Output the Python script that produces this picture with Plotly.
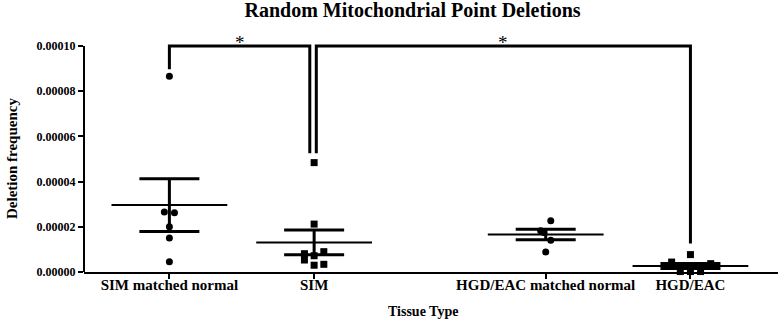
import plotly.graph_objects as go

# ---- data ----
categories = ["SIM matched normal", "SIM", "HGD/EAC matched normal", "HGD/EAC"]
cat_pos = [1.0, 2.0, 3.6, 4.6]

sim_normal = [8.66e-5, 2.65e-5, 2.62e-5, 2.00e-5, 1.50e-5, 0.45e-5]
sim = [4.84e-5, 2.12e-5, 0.90e-5, 0.72e-5, 0.81e-5, 0.53e-5, 0.30e-5, 0.34e-5]
hgd_normal = [2.27e-5, 1.82e-5, 1.75e-5, 1.41e-5, 0.89e-5]
hgd = [0.77e-5, 0.44e-5, 0.37e-5, 0.02e-5, 0.02e-5, 0.02e-5]

means = [2.96e-5, 1.31e-5, 1.66e-5, 0.27e-5]
sems = [1.17e-5, 0.55e-5, 0.23e-5, 0.11e-5]

# horizontal scatter offsets of the points (category units)
jit_sim_normal = [0, -0.035, 0.035, 0, 0, 0]
jit_sim = [0, 0, 0.067, 0, -0.067, -0.067, 0, 0.067]
jit_hgd_normal = [0.035, -0.035, -0.012, 0.035, 0.0]
jit_hgd = [0, -0.13, 0.14, -0.07, 0, 0.07]

# significance brackets: (left group, right group, left foot, right foot, top)
brackets = [(0, 1, 8.97e-5, 5.25e-5, 1.0e-4), (1, 3, 5.25e-5, 1.26e-5, 1.0e-4)]
bracket_dx = [(0.0, -0.03), (0.015, 0.0)]

groups = [sim_normal, sim, hgd_normal, hgd]
jits = [jit_sim_normal, jit_sim, jit_hgd_normal, jit_hgd]
symbols = ["circle", "square", "circle", "square"]

FONT = "Liberation Serif"
fig = go.Figure()

# mean lines
for p, m in zip(cat_pos, means):
    fig.add_trace(go.Scatter(x=[p - 0.4, p + 0.4], y=[m, m], mode="lines",
                             line=dict(color="black", width=2), hoverinfo="skip",
                             showlegend=False))

# points
for p, vals, jit, sym in zip(cat_pos, groups, jits, symbols):
    fig.add_trace(go.Scatter(x=[p + j for j in jit], y=vals, mode="markers",
                             marker=dict(symbol=sym, size=7, color="black"),
                             cliponaxis=False, showlegend=False))

# SEM error bars
fig.add_trace(go.Scatter(x=cat_pos, y=means, mode="markers",
                         marker=dict(size=1, color="rgba(0,0,0,0)"),
                         error_y=dict(type="data", array=sems, visible=True,
                                      color="black", thickness=3, width=30),
                         showlegend=False))

# brackets
for (a, b, ya, yb, top), (da, db) in zip(brackets, bracket_dx):
    xa = cat_pos[a] + da
    xb = cat_pos[b] + db
    fig.add_trace(go.Scatter(x=[xa, xa, xb, xb], y=[ya, top, top, yb], mode="lines",
                             line=dict(color="black", width=3), showlegend=False,
                             hoverinfo="skip"))
    fig.add_annotation(x=(xa + xb) / 2, y=top, text="*", showarrow=False,
                       yanchor="bottom", yshift=-9,
                       font=dict(family=FONT, size=19, color="black"))

# y axis line from 0 to top tick
fig.add_shape(type="line", xref="paper", x0=0, x1=0, yref="y", y0=0, y1=1.0e-4,
              line=dict(color="black", width=2))

fig.add_annotation(xref="paper", yref="y", x=-0.1037, y=0.5e-4, text="Deletion frequency",
                   textangle=-90, showarrow=False, xanchor="center", yanchor="middle",
                   font=dict(family=FONT, size=15, color="black", weight="bold"))
fig.add_annotation(xref="paper", yref="paper", x=0.4878, y=-0.166, text="Tissue Type",
                   showarrow=False, xanchor="center", yanchor="middle",
                   font=dict(family=FONT, size=14, color="black", weight="bold"))

fig.update_layout(
    width=778, height=321,
    margin=dict(l=84, r=0, t=33, b=49),
    paper_bgcolor="white", plot_bgcolor="white",
    hovermode=False,
    title=dict(text="Random Mitochondrial Point Deletions", x=412.5 / 778, xref="container",
               xanchor="center", y=1 - 10 / 321, yref="container", yanchor="middle",
               font=dict(family=FONT, size=20, color="black", weight="bold")),
    xaxis=dict(range=[0.41, 5.205], tickvals=cat_pos, ticktext=categories,
               showline=True, linecolor="black", linewidth=2, ticks="outside",
               ticklen=5, tickwidth=1.5, tickcolor="black", showgrid=False, zeroline=False,
               ticklabelstandoff=-7,
               tickfont=dict(family=FONT, size=15, color="black", weight="bold")),
    yaxis=dict(range=[0, 1.0575e-4], tickvals=[0, 2e-5, 4e-5, 6e-5, 8e-5, 1e-4],
               tickformat=".5f", showline=False, ticks="outside", ticklen=5, tickwidth=2,
               tickcolor="black", showgrid=False, zeroline=False,
               tickfont=dict(family=FONT, size=12, color="black", weight="bold")),
)

fig.write_html("out.html", config={"displayModeBar": False},
               post_script="document.body.style.margin='0';document.body.style.padding='0';")
